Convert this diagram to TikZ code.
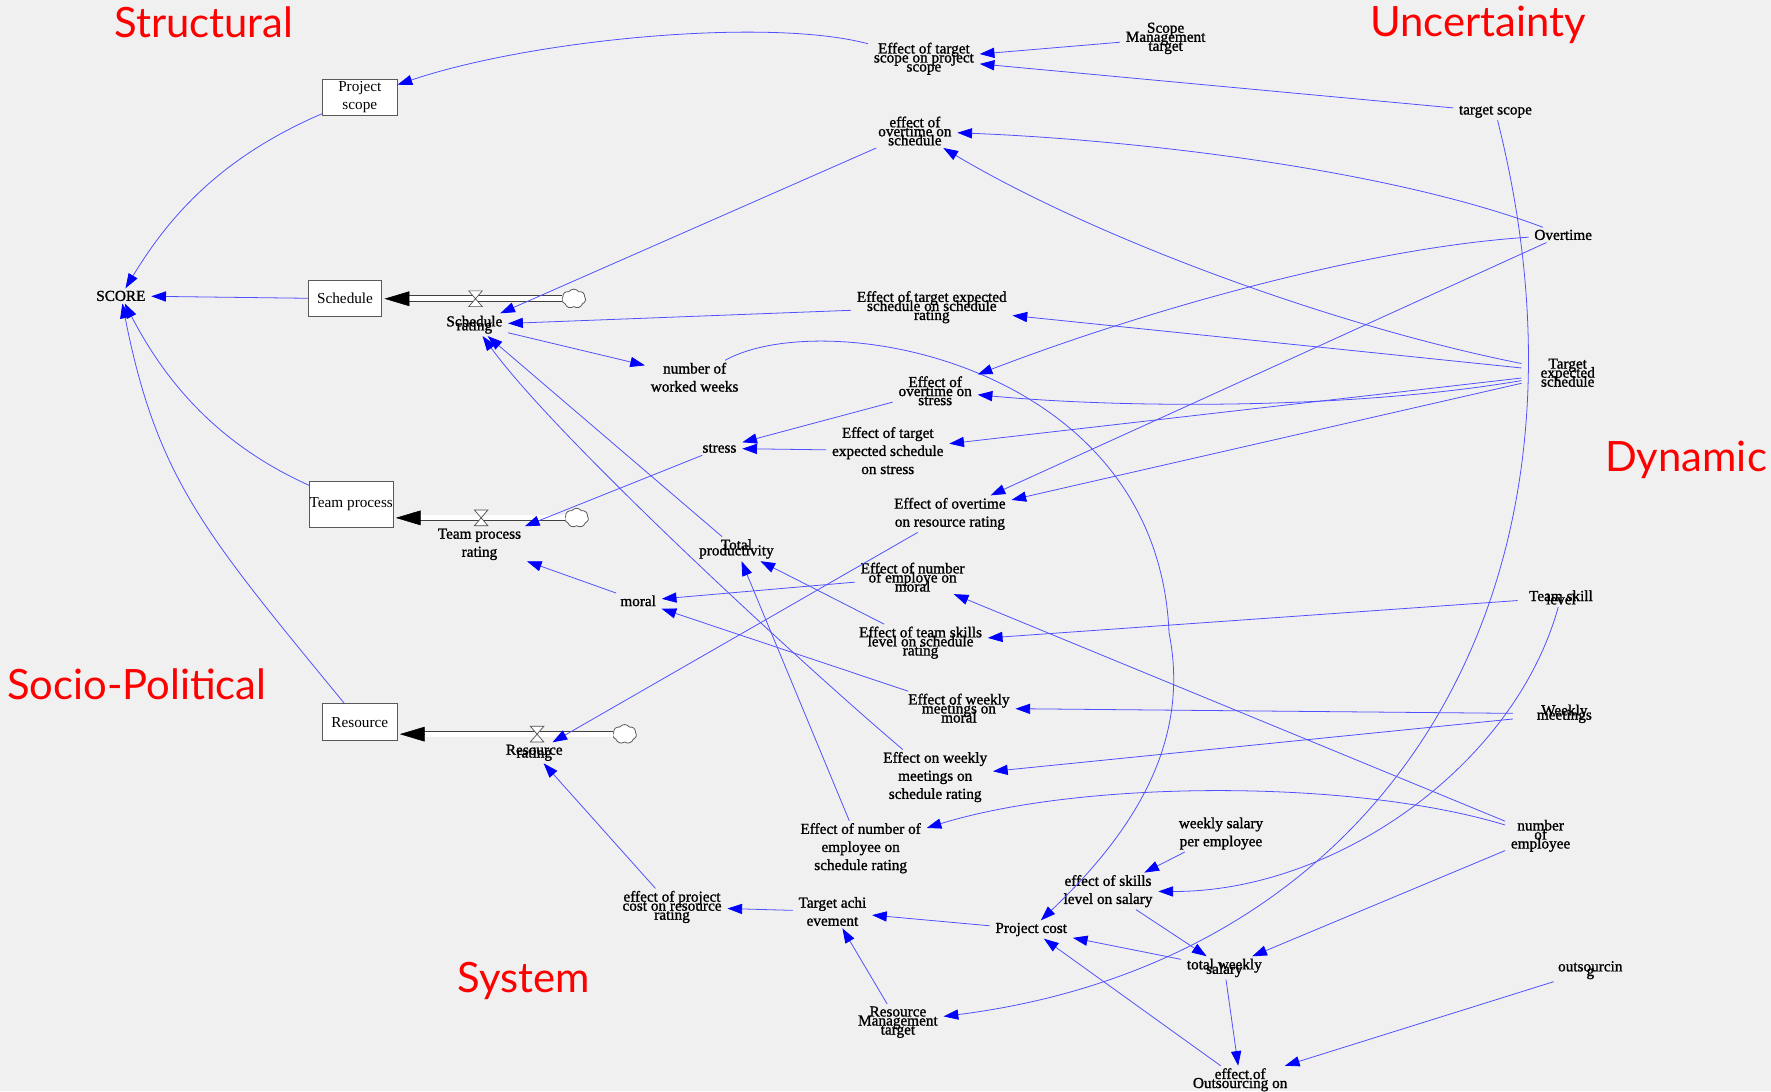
\documentclass[tikz,border=0pt]{standalone}
\usepackage{fontspec}
\setmainfont{Liberation Serif}
\newfontfamily\labfont[FakeBold=1.2]{Liberation Serif}
\newfontfamily\redfont{Lato}
\usetikzlibrary{arrows.meta,shapes.symbols,calc}
\definecolor{bgc}{RGB}{240,240,240}
\definecolor{linkc}{RGB}{80,80,255}
\definecolor{tipc}{RGB}{0,0,255}
\definecolor{redc}{RGB}{255,0,0}
\begin{document}
\begin{tikzpicture}[x=1pt,y=-1pt,
  lab/.style={font=\labfont\fontsize{13.5}{16}\selectfont, align=center, inner xsep=5pt, inner ysep=2pt},
  stock/.style={draw=black!65, fill=white, line width=0.8pt, inner sep=0pt, font=\fontsize{13.5}{16}\selectfont, align=center},
  lk/.style={draw=linkc, line width=0.7pt, -{Triangle[length=13pt,width=9pt,color=tipc]}},
  pipe/.style={draw=black!75, double=white, double distance=4.2pt, line width=0.8pt},
  flowtip/.style={-{Triangle[length=22pt,width=13pt,color=black]}, line width=0.5pt},
  valve/.style={draw=black!70, fill=white, line width=0.6pt},
  cloudn/.style={cloud, cloud puffs=7, cloud puff arc=110, aspect=1.25, draw=black!65, fill=white, line width=0.7pt, inner sep=0pt, minimum width=21pt, minimum height=17pt},
  cat/.style={font=\redfont\fontsize{37}{40}\selectfont, text=redc, anchor=base west, inner sep=0pt}
]
\fill[bgc] (0,0) rectangle (1568,966);
\useasboundingbox (0,0) rectangle (1568,966);

% category labels
\node[cat] (lst) at (101,33) {Structural};
\node[cat] (lun) at (1213,32) {Uncertainty};
\node[cat] (ldy) at (1421,417.5) {Dynamic};
\node[cat] (lso) at (6,619) {Socio-Political};
\node[cat] (lsy) at (405,879) {System};

% stocks
\node[stock, minimum width=66pt, minimum height=32.5pt] (ps) at (318.6,86.3) {Project\\scope};
\node[stock, minimum width=65pt, minimum height=32pt] (sch) at (305.5,264.5) {Schedule};
\node[stock, minimum width=74pt, minimum height=41pt] (tpb) at (311,446.5) {Team process};
\node[stock, minimum width=66pt, minimum height=33pt] (res) at (318.6,639.5) {Resource};

% clouds
\node[cloudn] (c1) at (508,264.5) {};
\node[cloudn] (c2) at (510.5,458.5) {};
\node[cloudn] (c3) at (553,650) {};

% pipes
\draw[pipe] (c1.west) -- ($(c1.west -| sch.east)+(22,0)$);
\draw[flowtip] ($(c1.west -| sch.east)+(23,0)$) -- ($(c1.west -| sch.east)+(2,0)$);
\draw[pipe] (c2.west) -- ($(c2.west -| tpb.east)+(22,0)$);
\draw[flowtip] ($(c2.west -| tpb.east)+(23,0)$) -- ($(c2.west -| tpb.east)+(2,0)$);
\draw[pipe] (c3.west) -- ($(c3.west -| res.east)+(22,0)$);
\draw[flowtip] ($(c3.west -| res.east)+(23,0)$) -- ($(c3.west -| res.east)+(2,0)$);

% valves
\draw[valve, shift={(421,264.5)}] (-6,-7) -- (6,-7) -- (-6,7) -- (6,7) -- cycle;
\draw[valve, shift={(426,458.5)}] (-6,-7) -- (6,-7) -- (-6,7) -- (6,7) -- cycle;
\draw[valve, shift={(475.5,650)}] (-6,-7) -- (6,-7) -- (-6,7) -- (6,7) -- cycle;

% variables
\node[lab] (score) at (107,262) {SCORE};
\node[lab] (sr) at (420,287.5) {Schedule\\[-12.5pt]rating};
\node[lab] (tpr) at (424.5,482) {Team process\\rating};
\node[lab] (rr) at (473,666.5) {Resource\\[-13.5pt]rating};
\node[lab] (ets) at (818,52) {Effect of target\\[-8pt]scope on project\\[-8pt]scope};
\node[lab] (smt) at (1032,34) {Scope\\[-8pt]Management\\[-8pt]target};
\node[lab] (tsc) at (1324,99) {target scope};
\node[lab] (eos) at (810,116) {effect of\\[-8pt]overtime on\\[-8pt]schedule};
\node[lab] (ovt) at (1384,208) {Overtime};
\node[lab] (etss) at (825,272) {Effect of target expected\\[-8pt]schedule on schedule\\[-8pt]rating};
\node[lab] (tes) at (1388,330) {Target\\[-8pt]expected\\[-8pt]schedule};
\node[lab] (nww) at (615,334) {number of\\worked weeks};
\node[lab] (eost) at (828,346) {Effect of\\[-8pt]overtime on\\[-8pt]stress};
\node[lab] (str) at (637,397) {stress};
\node[lab] (etes) at (786,399) {Effect of target\\expected schedule\\on stress};
\node[lab] (eorr) at (841,455) {Effect of overtime\\on resource rating};
\node[lab] (tp) at (652,486) {Total\\[-11pt]productivity};
\node[lab] (enm) at (808,511) {Effect of number\\[-8pt]of employe on\\[-8pt]moral};
\node[lab] (mor) at (565,532) {moral};
\node[lab] (ets2) at (815,569) {Effect of team skills\\[-8pt]level on schedule\\[-8pt]rating};
\node[lab] (tsl) at (1382,529) {Team skill\\[-13pt]level};
\node[lab] (ewm) at (849,627) {Effect of weekly\\[-8pt]meetings on\\[-8pt]moral};
\node[lab] (wm) at (1385,632) {Weekly\\[-12pt]meetings};
\node[lab] (ewms) at (828,688) {Effect on weekly\\meetings on\\schedule rating};
\node[lab] (enms) at (762,751) {Effect of number of\\employee on\\schedule rating};
\node[lab] (wspe) at (1081,738) {weekly salary\\per employee};
\node[lab] (noe) at (1364,740) {number\\[-8pt]of\\[-8pt]employee};
\node[lab] (esls) at (981,789) {effect of skills\\level on salary};
\node[lab] (epcr) at (595,803) {effect of project\\[-8pt]cost on resource\\[-8pt]rating};
\node[lab] (ta) at (737,807) {Target achi\\evement};
\node[lab] (pc) at (913,823) {Project cost};
\node[lab] (tws) at (1084,857) {total weekly\\[-12pt]salary};
\node[lab] (out) at (1408,859) {outsourcin\\[-12pt]g};
\node[lab] (rmt) at (795,905) {Resource\\[-8pt]Management\\[-8pt]target};
\node[lab] (eoo) at (1098,956) {effect of\\[-8pt]Outsourcing on};

% links
\draw[lk] (ets) .. controls (680,15) and (470,35) .. (ps);
\draw[lk] (ps) .. controls (196,139) and (150,191) .. (score);
\draw[lk] (sch) -- (score);
\draw[lk] (tpb) .. controls (190,392) and (145,335) .. (score);
\draw[lk] (res) .. controls (182,473) and (139,424) .. (score);
\draw[lk] (smt) -- (ets);
\draw[lk] (tsc) -- (ets);
\draw[lk] (tsc) .. controls (1430,520) and (1230,850) .. (rmt);
\draw[lk] (ovt) .. controls (1230,150) and (1008,124) .. (eos);
\draw[lk, shorten <=12pt] (tes) .. controls (1177,288) and (966,209) .. (eos);
\draw[lk] (eos) -- (sr);
\draw[lk] (etss) -- (sr);
\draw[lk, shorten <=12pt] (tes) -- (etss);
\draw[lk] (sr) -- (nww);
\draw[lk] (nww) .. controls (730,270) and (1025,320) .. (1035,560) .. controls (1055,660) and (1000,740) .. (pc);
\draw[lk] (ovt) .. controls (1200,220) and (1000,280) .. (eost);
\draw[lk] (ovt) -- (eorr);
\draw[lk, shorten <=12pt] (tes) -- (eorr);
\draw[lk, shorten <=12pt] (tes) .. controls (1200,362) and (1000,362) .. (eost);
\draw[lk, shorten <=12pt] (tes) -- (etes);
\draw[lk] (eost) -- (str);
\draw[lk] (etes) -- (str);
\draw[lk] (str) -- (tpr);
\draw[lk] (mor) -- (tpr);
\draw[lk] (tp) -- (sr);
\draw[lk] (ewms) .. controls (709,587) and (492,387) .. (sr);
\draw[lk] (enms) -- (tp);
\draw[lk] (ets2) -- (tp);
\draw[lk] (enm) -- (mor);
\draw[lk] (ewm) -- (mor);
\draw[lk] (eorr) -- (rr);
\draw[lk] (epcr) -- (rr);
\draw[lk, shorten <=5pt] (tsl) -- (ets2);
\draw[lk] (tsl) .. controls (1340,680) and (1180,790) .. (esls);
\draw[lk, shorten <=16pt] (wm) -- (ewm);
\draw[lk, shorten <=16pt] (wm) -- (ewms);
\draw[lk] (noe) -- (enm);
\draw[lk] (noe) .. controls (1200,690) and (960,690) .. (enms);
\draw[lk] (noe) -- (tws);
\draw[lk] (wspe) -- (esls);
\draw[lk] (esls) -- (tws);
\draw[lk] (tws) -- (pc);
\draw[lk] (tws) -- (eoo);
\draw[lk] (eoo) -- (pc);
\draw[lk] (out) -- (eoo);
\draw[lk] (pc) -- (ta);
\draw[lk] (ta) -- (epcr);
\draw[lk] (rmt) -- (ta);
\end{tikzpicture}
\end{document}
